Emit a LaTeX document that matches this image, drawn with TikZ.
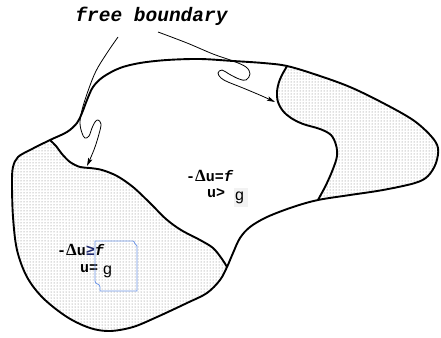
\documentclass[tikz,border=0pt]{standalone}
\usepackage{fontspec}
\usetikzlibrary{patterns,arrows.meta}
\newfontfamily\monofont{Liberation Mono}
\newfontfamily\sansfnt{Liberation Sans}
\newfontfamily\seriffnt{Liberation Serif}
\definecolor{boxblue}{RGB}{110,150,230}
\definecolor{geqblue}{RGB}{30,40,110}
\begin{document}
\begin{tikzpicture}[x=1pt,y=-1pt,
  boundary/.style={line width=1.9pt,line join=round,line cap=round},
  arrline/.style={line width=0.8pt,-{Stealth[length=8pt,width=4.5pt,inset=1.5pt]}},
  dotfill/.style={pattern=dots,pattern color=black!55},
  fbtext/.style={font=\monofont\bfseries\itshape\fontsize{19.5}{22}\selectfont,inner sep=0pt},
  eqtext/.style={font=\monofont\bfseries\fontsize{15}{17}\selectfont,inner sep=0pt},
  gtext/.style={font=\sansfnt\fontsize{16}{18}\selectfont,inner sep=0pt}]
\useasboundingbox (0,0) rectangle (441,337);
\def\outerpts{(50,140) (67,132) (77,123) (82,113) (87,100) (93,87) (103,77) (120,68) (140,63) (167,60) (200,59) (233,61) (263,63) (287,66) (317,75) (350,87) (383,103) (413,120) (431,136) (438,148) (436,163) (428,176) (415,183) (383,190) (350,195) (318,200) (293,207) (267,217) (250,227) (240,238) (233,253) (227,267) (220,280) (207,293) (187,303) (157,317) (133,327) (110,331) (90,328) (67,317) (43,298) (27,277) (17,250) (13,217) (12,183) (13,167) (18,157) (30,150)}
\begin{scope}
  \clip plot[smooth cycle,tension=0.55] coordinates {\outerpts};
  % left contact region
  \fill[dotfill] plot[smooth,tension=0.55] coordinates {(44,134) (50,140) (56,146) (62,154) (70,162) (80,167) (90,168) (102,170) (117,176) (133,187) (150,203) (166,219) (181,230) (200,240) (213,248) (222,259) (227,267) (231,274)} -- (250,300) -- (250,345) -- (-5,345) -- (-5,125) -- (40,125) -- cycle;
  % right contact region
  \fill[dotfill] plot[smooth,tension=0.55] coordinates {(289,58) (287,66) (283,73) (279,82) (277,92) (278,102) (283,111) (291,118) (303,124) (320,129) (331,135) (336,145) (337,156) (333,169) (326,185) (318,200) (314,208)} -- (314,215) -- (450,215) -- (450,45) -- (289,45) -- cycle;
  \draw[boundary] plot[smooth,tension=0.55] coordinates {(44,134) (50,140) (56,146) (62,154) (70,162) (80,167) (90,168) (102,170) (117,176) (133,187) (150,203) (166,219) (181,230) (200,240) (213,248) (222,259) (227,267) (231,274)};
  \draw[boundary] plot[smooth,tension=0.55] coordinates {(289,58) (287,66) (283,73) (279,82) (277,92) (278,102) (283,111) (291,118) (303,124) (320,129) (331,135) (336,145) (337,156) (333,169) (326,185) (318,200) (314,208)};
\end{scope}
\draw[boundary] plot[smooth cycle,tension=0.55] coordinates {\outerpts};
% label
\node[fbtext,anchor=base] (fb) at (151.5,22) {free boundary};
\coordinate (s1) at (118,37);
\coordinate (t1) at (87,166);
\coordinate (s2) at (158,32);
\coordinate (t2) at (275,102);
\draw[arrline] plot[smooth,tension=0.6] coordinates {(s1) (107,53) (96,71) (88,91) (82,110) (80,123) (82,133) (85,138) (89,136) (92,128) (95,122) (98,120) (101,124) (99,134) (95,147) (91,157) (t1)};
\draw[arrline] plot[smooth,tension=0.6] coordinates {(s2) (187,43) (213,54) (233,61) (246,67) (250,74) (246,80) (239,79) (229,74) (222,70) (218,73) (221,78) (228,82) (243,88) (262,96) (t2)};
% equations, free region
\node[eqtext,anchor=base west] (e1) at (186,181) {-{\seriffnt\bfseries\fontsize{17}{18}\selectfont Δ}u=\textit{f}};
\node[eqtext,anchor=base west] (e2) at (207,197) {u>};
\fill[gray!10] (234,188) rectangle (248,207);
\node[gtext,anchor=base west] (g1) at (235,200) {g};
% equations, contact region
\node[eqtext,anchor=base west] (e3) at (57,255) {-{\seriffnt\bfseries\fontsize{17}{18}\selectfont Δ}u{\color{geqblue}≥}\textit{f}};
\node[eqtext,anchor=base west] (e4) at (80,272) {u=};
\node[gtext,anchor=base west] (g2) at (103,274) {g};
\draw[boxblue,line width=0.8pt] (95,241) -- (133,241) .. controls (135,241) and (134,245) .. (137,246) -- (137,291) -- (100,291) -- (100,287) .. controls (100,283) and (95,285) .. (95,281) -- cycle;
\end{tikzpicture}
\end{document}
